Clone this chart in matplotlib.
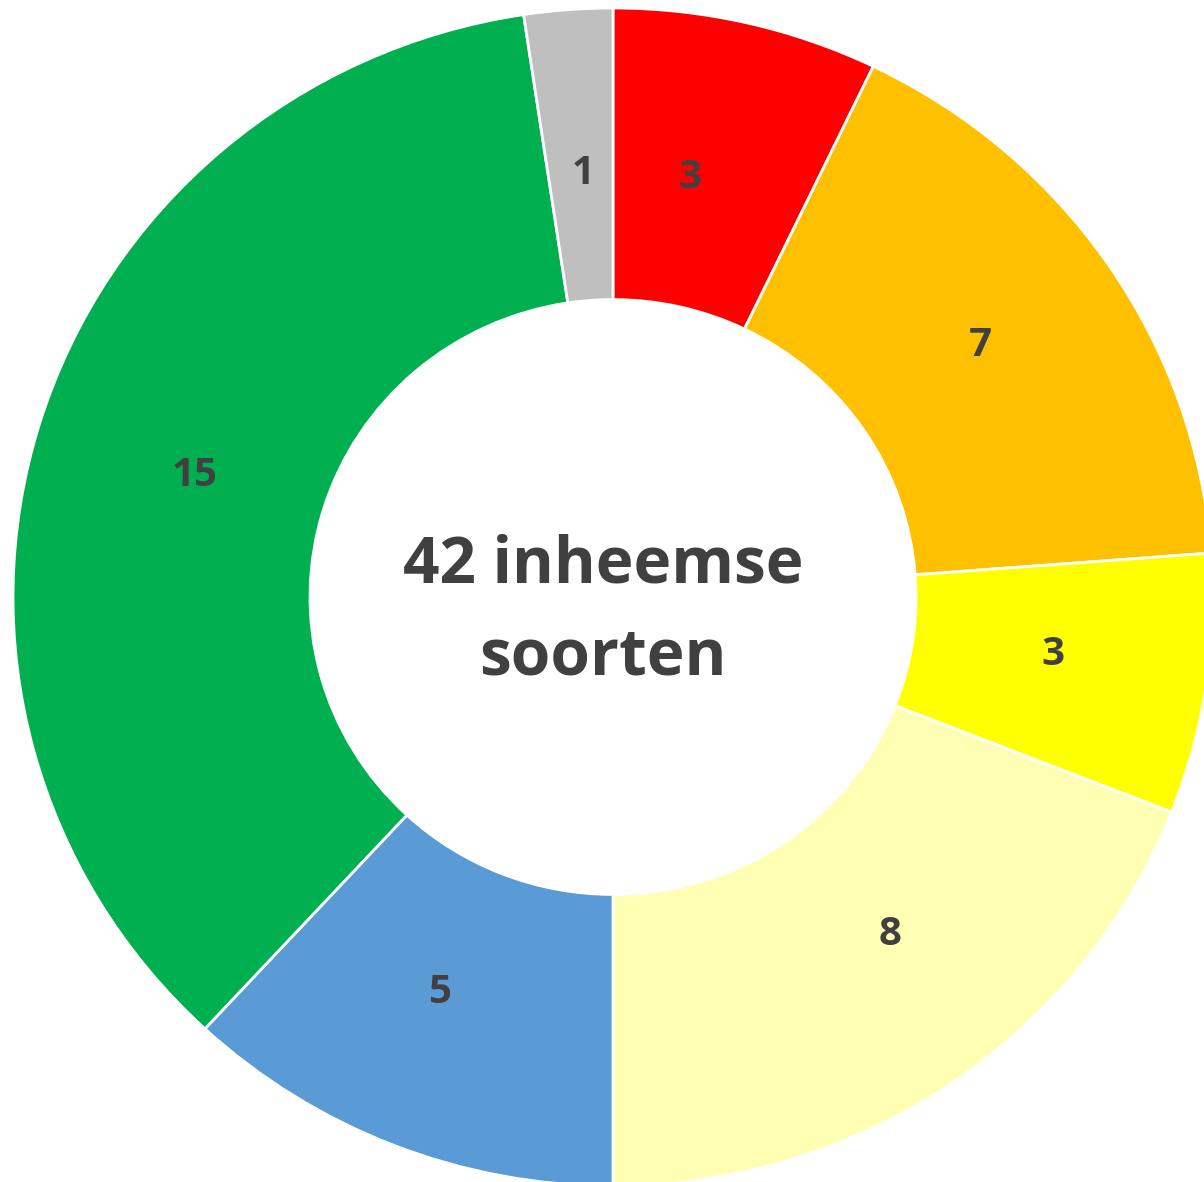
import matplotlib.pyplot as plt

# slices clockwise from the top
values = [3, 7, 3, 8, 5, 15, 1]
colors = ["#FF0000", "#FFC000", "#FFFF00", "#FFFFB3", "#5B9BD5", "#00B050", "#BFBFBF"]
center_text = "42 inheemse\nsoorten"

# small pixel nudges so the value labels sit where the original puts them
label_nudge = [(-21, 0), (5, 9), (7, 7), (30, 18), (-13, 5), (0, -5), (3, -5)]

plt.rcParams['font.family'] = ['Open Sans', 'DejaVu Sans']

fig = plt.figure(figsize=(12.04, 11.82), dpi=100)
ax = fig.add_axes([0, 0, 1, 1])

wedges, texts, autotexts = ax.pie(
    values, colors=colors, startangle=90, counterclock=False, radius=1.0,
    wedgeprops=dict(width=0.495, edgecolor="white", linewidth=2),
    autopct=lambda p: "%d" % round(p * sum(values) / 100),
    pctdistance=0.73,
    textprops=dict(color="#404040", fontsize=29, fontweight="bold"))

ax.text(-0.017, -0.026, center_text, ha="center", va="center", fontsize=46,
        fontweight="bold", color="#404040", linespacing=1.55)

# pie centre at pixel (613, 597); the original is a bit wider than tall
sx, sy = 600, 589
ax.set_xlim(-613 / sx, (1204 - 613) / sx)
ax.set_ylim((597 - 1182) / sy, 597 / sy)
ax.set_aspect("auto")
ax.axis("off")

for t, (dx, dy) in zip(autotexts, label_nudge):
    x, y = t.get_position()
    t.set_position((x + dx / sx, y + dy / sy))

fig.savefig("out.png", dpi=100)
